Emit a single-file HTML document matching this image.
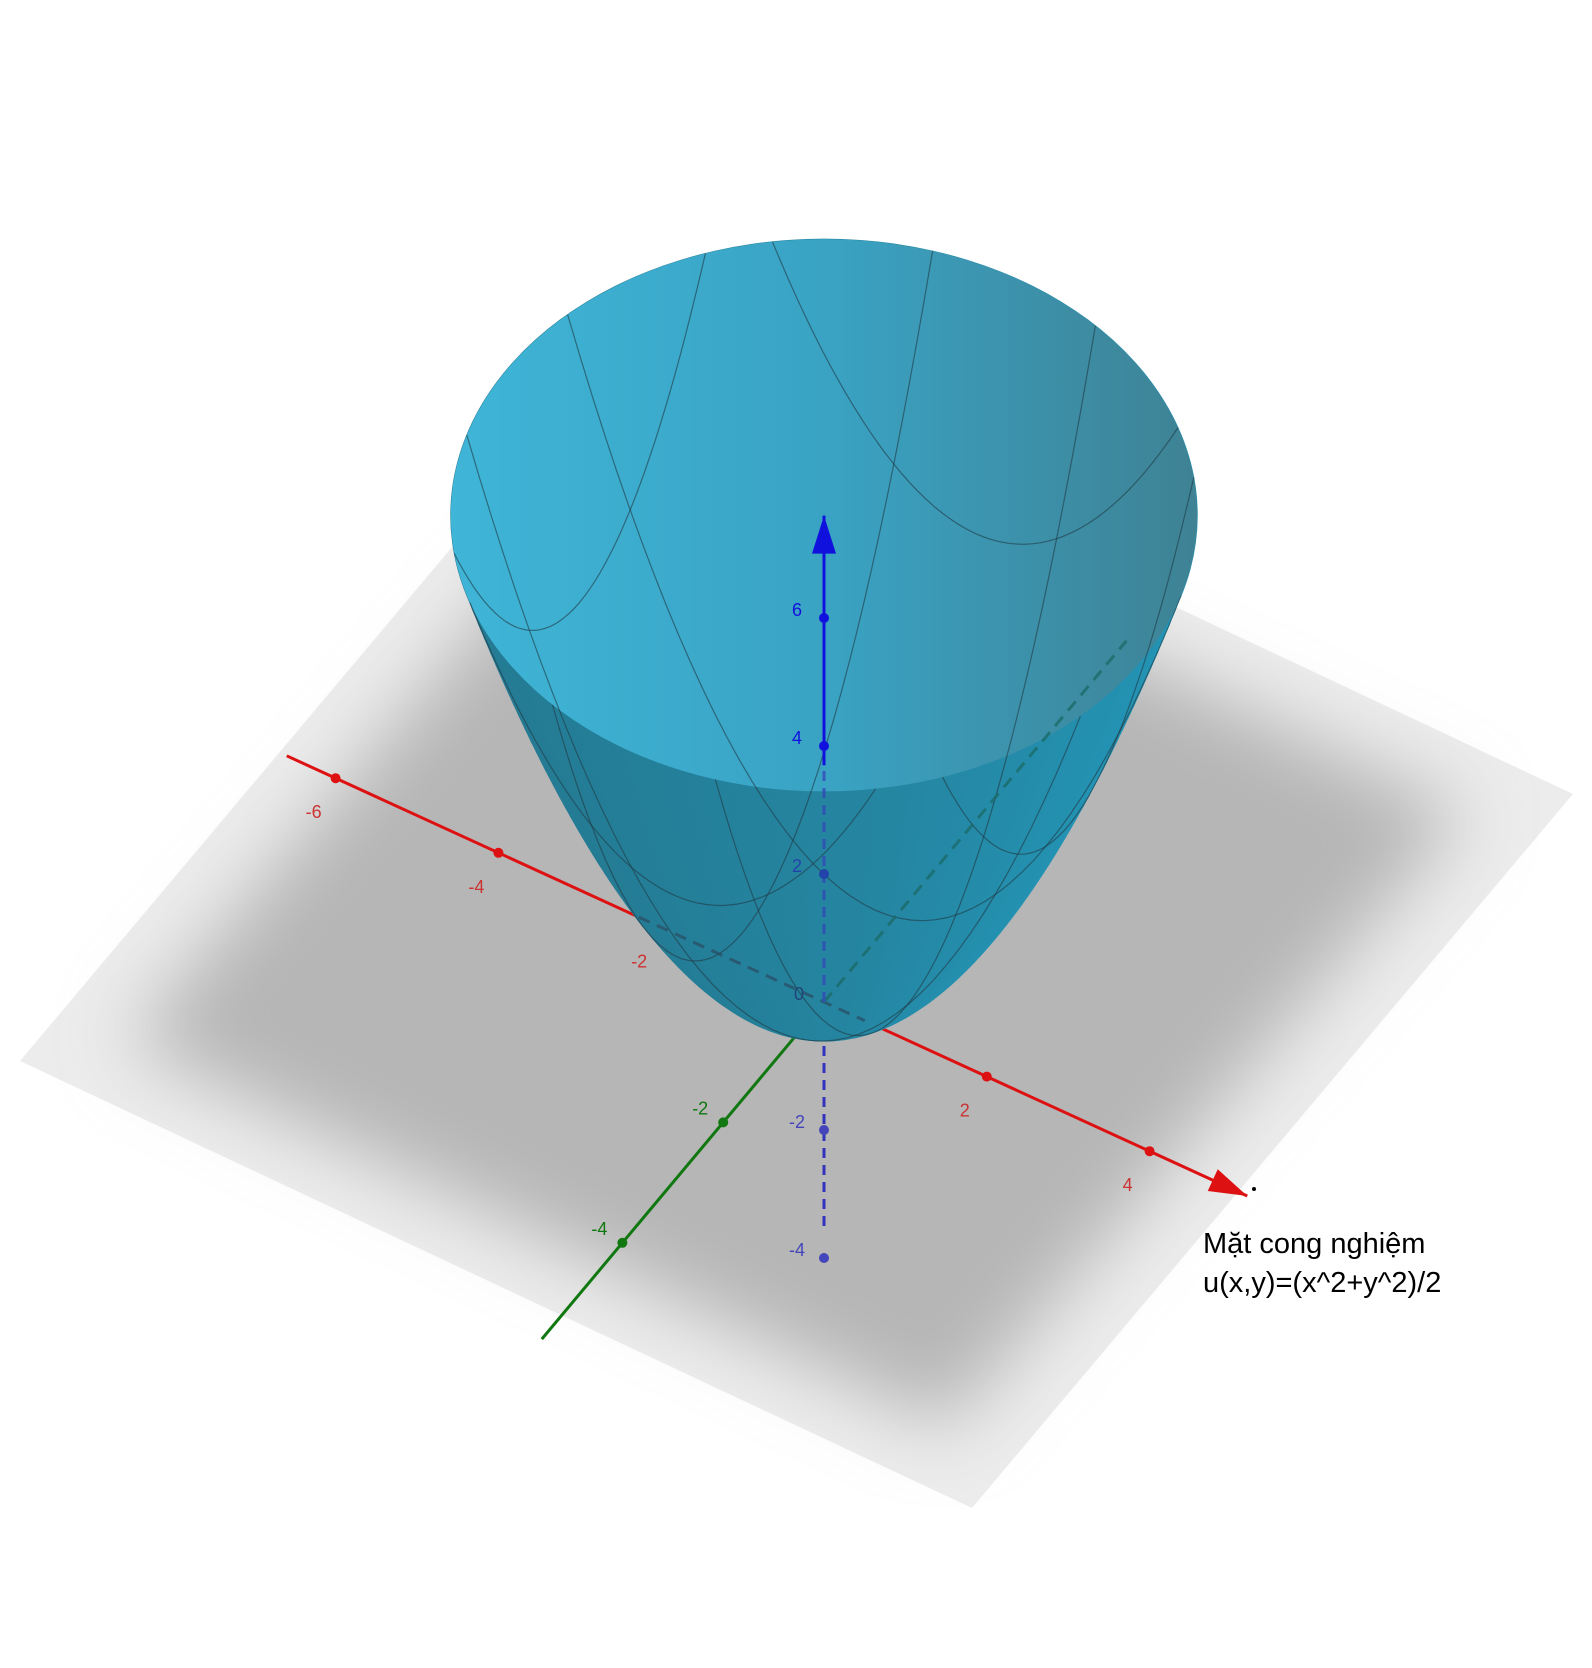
<!DOCTYPE html>
<html><head><meta charset="utf-8"><style>
html,body{margin:0;padding:0;background:#fff;}
svg{display:block;}
text{font-family:"Liberation Sans",sans-serif;}
</style></head><body>
<svg id="chart" width="1592" height="1668" viewBox="0 0 1592 1668" xmlns="http://www.w3.org/2000/svg">
<defs>
<filter id="blur" x="-20%" y="-20%" width="140%" height="140%"><feGaussianBlur stdDeviation="38"/></filter>
<linearGradient id="inner" x1="0" y1="0" x2="1" y2="0">
<stop offset="0" stop-color="#3fb5d7"/><stop offset="0.5" stop-color="#3aa3c4"/><stop offset="1" stop-color="#3e8294"/></linearGradient>
<linearGradient id="outer" x1="0" y1="0" x2="1" y2="0">
<stop offset="0" stop-color="#247a92"/><stop offset="0.6" stop-color="#2586a2"/><stop offset="1" stop-color="#2394b5"/></linearGradient>
<clipPath id="bowlclip"></clipPath>
</defs>
<g id="plane"></g>
<g id="axesBack"></g>
<g id="bowl"></g>
<g id="axesFront"></g>
<circle cx="1254" cy="1189" r="2" fill="#000"/>
<text x="1203" y="1253" font-size="29" fill="#000">Mặt cong nghiệm</text>
<text x="1203" y="1292" font-size="29" fill="#000">u(x,y)=(x^2+y^2)/2</text>
</svg>
<script>
const xTicks=[-6,-4,-2,2,4];
const yTicks=[-4,-2,2,4,6];
const zTicks=[-4,-2,2,4,6];
const gridLines=[-3,-1,1,3];
const rimRadius=[3.9];
const xRange=[-6.6,5.2];
const yRange=[-5.6,6.4];
const zRange=[-3.5,7.6];

const NS='http://www.w3.org/2000/svg';
const O={x:824,y:1002};
function P(x,y,z){return [O.x+81.4*x+50.4*y, O.y+37.3*x-60.2*y-64*z];}
function el(tag,attrs,parent){const e=document.createElementNS(NS,tag);for(const k in attrs)e.setAttribute(k,attrs[k]);parent.appendChild(e);return e;}
const f=(x,y)=>(x*x+y*y)/2;

const plane=document.getElementById('plane');
const pl=[[20,1061],[621,346],[1573,794],[972,1508]];
let e=el('polygon',{points:pl.map(p=>p.join(',')).join(' '),fill:'#ececec'},plane);


const cx=(20+1573)/2,cy=(1061+794)/2;
const inset=pl.map(p=>[cx+(p[0]-cx)*0.86,cy+(p[1]-cy)*0.86]);
e=el('polygon',{points:inset.map(p=>p.join(',')).join(' '),fill:'#b6b6b6',filter:'url(#blur)'},plane);



function line(g,a,b,col,w,dash,name){
  const l=el('line',{x1:a[0],y1:a[1],x2:b[0],y2:b[1],stroke:col,'stroke-width':w},g);
  if(dash)l.setAttribute('stroke-dasharray',dash);
  
  return l;}
function arrow(g,from,to,col,name){
  const dx=to[0]-from[0],dy=to[1]-from[1],L=Math.hypot(dx,dy),ux=dx/L,uy=dy/L;
  const bx=to[0]-ux*38,by=to[1]-uy*38;
  const a=el('polygon',{points:`${to[0]},${to[1]} ${bx-uy*12},${by+ux*12} ${bx+uy*12},${by-ux*12}`,fill:col},g);
  
  }
function label(g,p,txt,col,name){
  const t=el('text',{x:p[0],y:p[1],'font-size':18,fill:col,'text-anchor':'middle'},g);t.textContent=txt;
  
  }
function tick(g,p,col,name){
  const c=el('ellipse',{cx:p[0],cy:p[1],rx:5,ry:5,fill:col},g);
  
  }

const back=document.getElementById('axesBack');
const RED='#dd1111',GRN='#117711',BLU='#1111dd';
line(back,P(xRange[0],0,0),P(xRange[1],0,0),RED,3,null,'x-axis');
arrow(back,P(0,0,0),P(xRange[1],0,0),RED,'x-axis-arrow');
xTicks.forEach(v=>{const p=P(v,0,0);tick(back,p,RED,'x-tick');label(back,[p[0]-22,p[1]+40],String(v),'#cc3333','x-tick-label');});
line(back,P(0,yRange[0],0),P(0,yRange[1],0),GRN,3,null,'y-axis');
arrow(back,P(0,0,0),P(0,yRange[1],0),'#117755','y-axis-arrow');
yTicks.forEach(v=>{const p=P(0,v,0);tick(back,p,v<0?GRN:'#1a7a66','y-tick');label(back,[p[0]-23,p[1]-8],String(v),v<0?GRN:'#1a7a66','y-tick-label');});
line(back,P(0,0,zRange[0]),P(0,0,0),'#3333bb',3,'10,7','z-axis-negative');
zTicks.filter(v=>v<0).forEach(v=>{const p=P(0,0,v);tick(back,p,'#4444bb','z-tick');label(back,[p[0]-27,p[1]-2],String(v),'#4444bb','z-tick-label');});

const bowl=document.getElementById('bowl');
const clipEls=document.getElementById('bowlclip');
const R=rimRadius[0];
const N=60;
const gS=el('g',{},bowl);
for(let i=0;i<=N;i++){const r=R*i/N;const c=P(0,0,f(r,0));
  const a=el('ellipse',{cx:c[0],cy:c[1],rx:95.7*r+0.5,ry:70.8*r+0.5,fill:'url(#outer)'},gS);
  
  
  el('ellipse',{cx:c[0],cy:c[1],rx:95.7*r+0.5,ry:70.8*r+0.5},clipEls);}
const rc=P(0,0,f(R,0));
e=el('ellipse',{cx:rc[0],cy:rc[1],rx:95.7*R,ry:70.8*R,fill:'url(#inner)'},bowl);


const mesh=el('g',{'clip-path':'url(#bowlclip)',fill:'none',stroke:'#1f3a44','stroke-width':1.2,'stroke-opacity':0.6},bowl);
gridLines.forEach(c=>{
  const m=Math.sqrt(R*R-c*c);
  [0,1].forEach(k=>{let d='';
    for(let i=0;i<=50;i++){const t=-m+2*m*i/50;const x=k?c:t,y=k?t:c;const p=P(x,y,f(x,y));d+=(i?'L':'M')+p[0].toFixed(1)+','+p[1].toFixed(1);}
    const pth=el('path',{d:d},mesh);
    
    });
});

const front=document.getElementById('axesFront');
const fc=el('g',{'clip-path':'url(#bowlclip)',opacity:0.75},front);
line(fc,P(-2.5,0,0),P(0.5,0,0),'#2a4f66',3,'12,8','x-axis-hidden');
line(fc,P(0,0,0),P(0,6,0),'#1a6a66',3,'12,8','y-axis-hidden');
line(fc,P(0,0,0),P(0,0,3.7),'#3344bb',3,'10,7','z-axis-hidden');
line(front,P(0,0,3.7),P(0,0,zRange[1]),BLU,3,null,'z-axis');
arrow(front,P(0,0,0),P(0,0,zRange[1]),BLU,'z-axis-arrow');
zTicks.filter(v=>v>0).forEach(v=>{const p=P(0,0,v);tick(front,p,v>=4?BLU:'#2244aa','z-tick');label(front,[p[0]-27,p[1]-2],String(v),v>=4?BLU:'#2244aa','z-tick-label');});
label(front,[P(0,0,0)[0]-25,P(0,0,0)[1]-2],'0','#224477','origin-label');
</script>
</body></html>
